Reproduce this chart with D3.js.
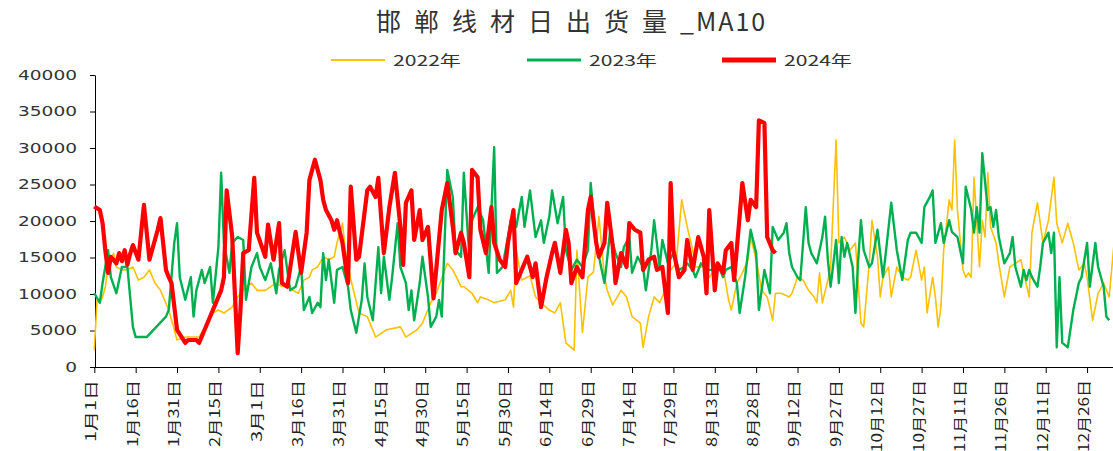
<html>
<head>
<meta charset="utf-8">
<script src="https://d3js.org/d3.v7.min.js"></script>
<style>
  body { margin: 0; background: #fff; }
  text { fill: #333; }
</style>
</head>
<body>
<svg id="chart" width="1113" height="451"></svg>
<script>
    // [day index, value]
    var s2022 = [[0,2300],[1,9200],[2,8800],[3,9600],[4,11000],[5,13700],[7,15600],[8,13700],[10,13300],[12,13300],[14,13700],[16,11900],[18,12300],[20,13300],[22,11500],[24,10500],[25,9600],[27,7800],[29,5100],[30,3700],[33,4100],[36,4100],[38,4100],[41,6000],[43,7400],[45,7800],[47,7400],[50,8200],[52,9600],[55,11000],[57,11500],[59,10500],[62,10500],[64,11000],[66,11500],[68,11000],[70,11500],[72,10500],[74,10100],[76,11900],[78,12300],[79,13300],[81,13700],[83,15100],[85,14700],[87,15100],[88,17000],[90,19700],[91,16000],[93,12000],[96,7400],[99,6900],[102,4100],[106,5100],[111,5500],[113,4100],[117,5100],[119,6000],[122,8800],[124,10100],[128,14200],[130,13300],[133,11000],[134,11000],[137,10100],[139,8800],[140,9600],[143,9200],[145,8800],[149,9200],[151,10500],[152,8200],[153,16000],[155,11900],[158,12500],[160,9600],[162,8800],[165,7800],[167,7400],[169,8800],[170,6000],[171,3300],[174,2300],[175,16000],[177,4700],[179,12300],[181,13000],[183,20600],[185,12300],[186,10500],[188,8500],[191,10500],[193,9600],[195,6900],[198,6000],[199,2700],[201,6900],[203,9600],[205,8800],[207,10500],[209,13300],[211,14200],[213,22900],[215,19200],[217,16000],[218,13700],[221,13700],[223,12300],[226,13700],[228,13700],[230,9200],[231,7800],[233,11500],[235,12900],[237,14700],[238,17800],[240,14700],[242,10500],[244,9600],[246,6400],[247,10100],[249,10100],[252,9600],[253,10100],[255,12300],[257,11900],[259,10500],[261,9600],[262,8800],[263,12900],[264,8800],[266,11900],[267,13700],[269,31100],[270,17000],[272,17800],[274,16000],[276,17000],[278,6000],[279,5500],[281,14200],[282,20100],[284,15100],[285,9600],[286,12300],[288,13700],[289,9600],[291,13700],[293,12300],[295,11900],[296,12300],[298,16000],[300,11900],[301,13700],[302,7400],[304,12300],[305,9600],[306,5500],[307,8200],[308,16000],[310,22900],[311,21500],[312,31100],[313,21500],[315,13300],[316,12300],[317,12900],[318,12300],[319,26000],[321,13700],[322,20100],[323,17800],[324,26600],[325,19200],[327,17000],[328,14200],[330,9600],[332,13700],[334,14200],[336,14700],[337,12900],[339,9600],[340,18400],[342,22500],[344,17000],[346,20100],[348,26000],[349,19700],[351,17000],[353,19700],[355,17000],[357,13300],[359,14200],[360,12300],[362,6400],[364,10100],[366,11500],[368,9600],[370,17800]]

    var s2023 = [[0,10100],[2,8800],[3,11500],[5,16000],[6,12300],[8,10100],[10,13700],[12,13700],[13,9600],[14,5500],[15,4100],[17,4100],[19,4100],[26,6900],[27,7800],[29,17000],[30,19700],[31,12300],[33,9200],[35,12300],[36,6900],[37,10500],[39,13300],[40,11500],[42,13700],[43,8800],[45,16400],[46,26600],[47,17000],[49,12900],[50,17000],[52,17800],[54,17400],[55,9200],[57,13700],[59,15600],[60,13700],[62,11900],[64,14200],[66,10100],[67,13300],[69,16000],[71,10500],[73,11000],[75,13700],[76,7800],[78,9600],[79,7400],[81,8800],[82,8200],[83,15600],[84,11900],[85,14700],[87,8800],[88,13300],[90,13700],[92,11000],[93,7800],[95,4700],[97,9200],[98,14200],[99,9600],[101,6400],[103,16400],[104,10100],[105,15100],[107,9200],[108,12300],[110,19700],[111,13700],[113,11500],[114,7800],[115,10500],[116,6400],[118,11500],[119,15100],[121,9600],[122,5500],[124,6900],[125,9200],[126,6900],[128,27000],[130,23300],[131,16000],[133,15100],[134,26600],[136,15100],[137,20100],[139,21900],[141,20100],[143,12900],[145,30100],[146,12900],[148,13700],[150,17800],[151,20100],[153,19200],[155,23300],[156,19200],[158,24200],[160,17800],[162,20100],[163,17000],[165,20600],[166,24200],[168,19700],[170,23300],[171,16000],[173,13300],[175,14700],[177,13700],[179,16000],[180,25200],[182,17000],[183,15100],[185,11500],[187,18400],[189,15600],[191,13700],[192,16400],[194,17800],[195,12900],[197,15100],[199,13700],[200,10500],[202,16000],[203,20100],[205,13700],[206,17400],[208,14200],[210,15600],[212,13300],[214,13700],[215,14200],[217,13300],[218,12300],[220,14200],[222,13300],[224,13300],[226,14200],[228,12300],[229,13300],[231,13700],[233,11500],[234,7400],[236,12300],[238,18800],[240,15600],[241,7800],[243,13300],[245,10100],[246,19200],[248,17400],[250,18400],[251,19700],[252,15600],[253,13700],[255,12300],[256,11900],[258,21900],[259,17000],[260,15600],[262,14200],[264,17800],[265,20600],[266,14700],[267,11000],[269,17400],[270,11500],[271,17800],[272,15100],[273,17000],[275,13700],[276,7400],[277,14700],[278,20100],[279,16000],[281,13700],[282,14200],[284,18800],[286,12300],[287,15600],[289,22500],[291,16000],[293,11900],[295,17400],[296,18400],[298,18400],[300,17000],[301,21900],[303,23300],[304,24200],[305,17000],[307,19700],[308,17000],[310,20100],[311,18500],[313,17800],[314,16000],[315,14200],[316,24700],[318,21500],[319,18400],[320,21900],[321,18400],[322,29300],[324,21500],[325,21900],[326,19200],[327,21500],[328,17800],[330,14200],[332,15600],[333,17800],[334,13700],[336,11000],[337,13300],[338,11900],[339,13300],[340,12300],[342,11000],[343,13700],[344,17000],[346,18400],[347,15600],[348,18400],[349,2700],[350,12300],[351,3300],[353,2700],[355,7800],[357,11500],[358,12300],[360,17000],[361,11000],[363,17000],[364,13700],[366,11000],[367,6900],[368,6400]]

    var s2024 = [[0,22000],[2,21500],[3,19700],[4,16000],[5,12900],[6,15100],[8,14200],[9,15600],[10,14500],[11,16000],[12,14000],[13,15500],[14,16700],[16,14700],[18,22200],[20,14700],[23,18800],[24,20400],[26,13300],[27,12300],[28,11500],[30,5100],[33,3300],[34,3700],[37,3700],[38,3300],[40,5100],[46,10500],[47,12300],[48,24200],[50,17900],[52,1900],[53,7800],[54,15600],[56,16000],[58,25900],[59,18400],[62,15100],[63,19500],[65,14700],[67,19700],[68,11500],[70,11000],[72,16000],[73,18500],[75,12900],[77,18400],[78,25600],[80,28400],[82,25600],[83,22900],[84,21500],[86,20100],[87,18800],[88,20100],[90,17000],[92,11500],[93,24700],[95,14700],[96,15100],[99,24200],[100,24700],[102,23300],[103,25900],[104,20600],[105,15600],[107,21900],[109,26600],[111,19200],[112,14000],[113,22500],[115,24200],[116,17400],[118,21500],[119,17400],[121,19200],[123,9400],[126,21500],[128,25200],[130,19200],[131,15600],[133,18400],[134,17000],[136,12300],[137,27000],[139,26000],[140,18800],[142,15600],[144,21900],[145,17000],[147,14700],[149,13700],[150,17000],[152,21500],[153,11500],[155,13300],[157,15100],[159,12300],[160,14200],[162,8200],[164,12300],[166,15600],[167,17000],[169,12900],[171,18800],[172,17000],[173,11500],[175,13700],[177,12300],[179,21500],[180,23300],[182,17000],[183,15100],[185,17000],[186,22500],[188,16500],[189,11500],[191,15600],[193,13700],[194,19700],[196,18800],[198,18400],[199,13300],[201,14700],[203,15100],[204,13300],[206,13700],[208,7400],[209,25200],[210,16000],[212,12300],[214,13300],[215,17400],[217,13300],[219,17800],[221,15100],[222,10100],[223,21500],[225,10500],[226,14200],[228,12900],[229,16000],[231,17000],[232,11900],[234,20600],[235,25200],[237,20100],[238,22900],[240,21900],[241,33800],[243,33400],[244,17800],[246,16000],[247,15600]]

    var tickDays = d3.range(0, 361, 15)
    var tickLabels = ['1月1日', '1月16日', '1月31日', '2月15日', '3月1日', '3月16日', '3月31日', '4月15日', '4月30日',
        '5月15日', '5月30日', '6月14日', '6月29日', '7月14日', '7月29日', '8月13日', '8月28日', '9月12日', '9月27日',
        '10月12日', '10月27日', '11月11日', '11月26日', '12月11日', '12月26日']
    var yTicks = d3.range(0, 40001, 5000)

    var series = [
        { name: '2022年', data: s2022, color: '#FFC000', width: 1.6 },
        { name: '2023年', data: s2023, color: '#00B050', width: 2.4 },
        { name: '2024年', data: s2024, color: '#FF0000', width: 4.2 }
    ]

    var svg = d3.select('#chart')

    var x = d3.scaleLinear().domain([0, 369.4]).range([94.3, 1113])
    var y = d3.scaleLinear().domain([0, 40000]).range([367, 75])

    // title: wide gaps between the hanzi, tighter latin part
    var title = svg.append('text')
        .attr('x', 376).attr('y', 31)
        .style('font-family', '"Noto Sans CJK SC"')
        .style('font-size', '25px')
    title.append('tspan').style('letter-spacing', '13px').text('邯郸线材日出货量')
    title.append('tspan').style('letter-spacing', '2px').text('_MA10')

    // legend
    var legendX = [331, 527, 722]
    series.forEach(function(s, i) {
        svg.append('line')
            .attr('x1', legendX[i]).attr('x2', legendX[i] + 54)
            .attr('y1', 60).attr('y2', 60)
            .style('stroke', s.color).style('stroke-width', i == 2 ? 5 : s.width + 0.6)
        svg.append('text')
            .attr('x', legendX[i] + 62).attr('y', 65.5)
            .attr('textLength', 68).attr('lengthAdjust', 'spacingAndGlyphs')
            .style('font-family', '"Noto Sans CJK SC"')
            .style('font-size', '15px')
            .text(s.name)
    })

    // y axis
    var yAxis = d3.axisLeft(y).tickValues(yTicks).tickFormat(d3.format('d'))
        .tickSize(5).tickSizeOuter(0).tickPadding(13)
    var gy = svg.append('g')
        .attr('transform', 'translate(95, 0)')
        .call(yAxis)
    gy.selectAll('path, line').style('stroke', '#000')
    gy.selectAll('text')
        .style('font-family', '"DejaVu Sans"')
        .style('font-size', '14px')
        .style('fill', '#333')
        .attr('textLength', function(d) { return String(d).length * 11.8 })
        .attr('lengthAdjust', 'spacingAndGlyphs')

    // x axis
    var xAxis = d3.axisBottom(x).tickValues(tickDays).tickSize(6).tickSizeOuter(0).tickFormat('')
    var gx = svg.append('g')
        .attr('transform', 'translate(0, 367)')
        .call(xAxis)
    gx.selectAll('path, line').style('stroke', '#000')

    svg.selectAll('text.xlab')
        .data(tickDays)
        .enter()
        .append('text')
        .classed('xlab', true)
        .attr('transform', function(d) { return 'translate(' + (x(d) - 3) + ', 380) rotate(-90)' })
        .attr('dy', '.35em')
        .attr('text-anchor', 'end')
        .attr('textLength', function(d, i) { return 42 + 5 * tickLabels[i].length })
        .attr('lengthAdjust', 'spacingAndGlyphs')
        .style('font-family', '"Noto Sans CJK SC"')
        .style('font-size', '14px')
        .style('fill', '#222')
        .text(function(d, i) { return tickLabels[i] })

    // lines
    var line = d3.line()
        .x(function(d) { return x(d[0]) })
        .y(function(d) { return y(d[1]) })

    svg.selectAll('path.series')
        .data(series)
        .enter()
        .append('path')
        .classed('series', true)
        .attr('d', function(d) { return line(d.data) })
        .style('fill', 'none')
        .style('stroke', function(d) { return d.color })
        .style('stroke-width', function(d) { return d.width })
        .style('stroke-linejoin', 'round')
</script>
</body>
</html>
